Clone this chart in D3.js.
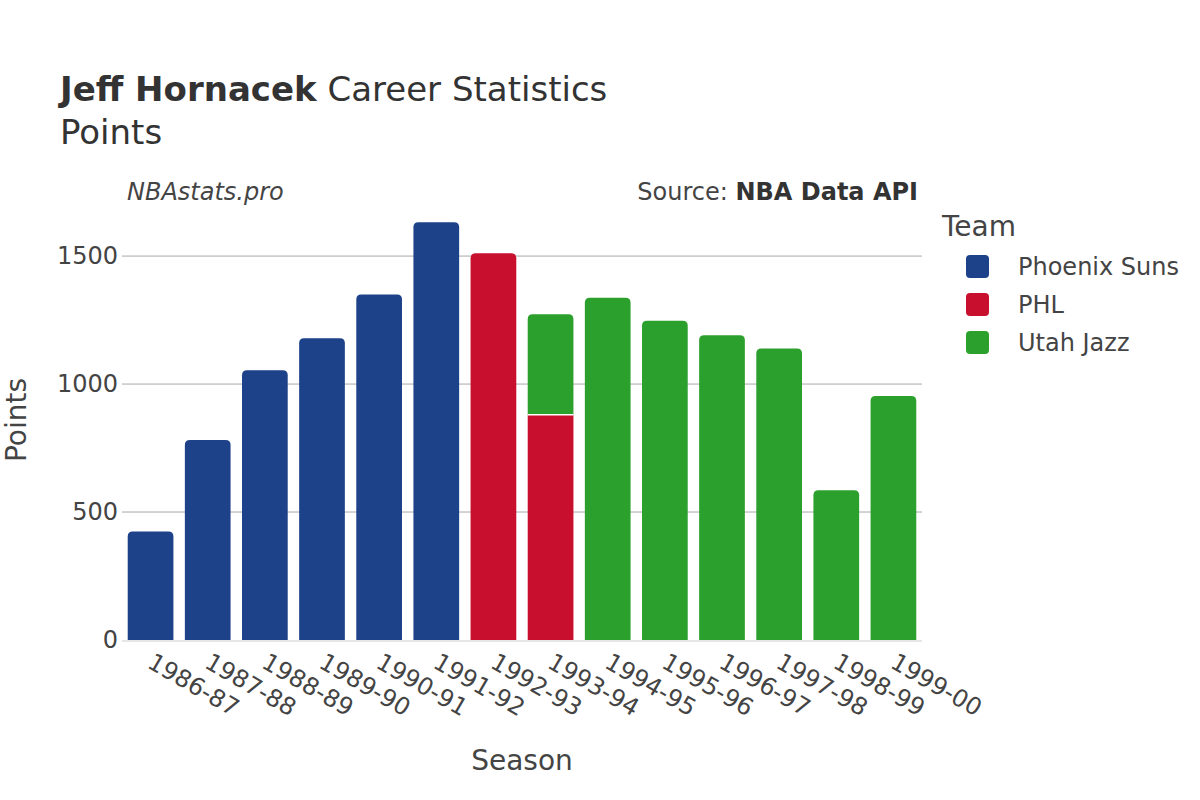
<!DOCTYPE html>
<html><head><meta charset="utf-8">
<script src="https://cdn.jsdelivr.net/npm/d3@7"></script>
<style>body{margin:0;background:#fff}svg{font-family:"DejaVu Sans",sans-serif}</style>
</head><body><svg id="c" width="1200" height="800"></svg>
<script>
const seasons = ["1986-87","1987-88","1988-89","1989-90","1990-91","1991-92","1992-93","1993-94","1994-95","1995-96","1996-97","1997-98","1998-99","1999-00"];
const teams = ["Phoenix Suns","PHL","Utah Jazz"];
const teamColors = ["#1d428a","#c8102e","#2ca02c"];
const phoenix = [424,781,1054,1179,1350,1632,0,0,0,0,0,0,0,0];
const phl     = [0,0,0,0,0,0,1511,880,0,0,0,0,0,0];
const utah    = [0,0,0,0,0,0,0,393,1337,1247,1191,1139,585,953];
const yTicks = [0,500,1000,1500];

const svg = d3.select("#c");
const L=122, R=922, T=210, B=640;
const x = d3.scaleBand().domain(seasons).range([L,R]).paddingInner(0.2).paddingOuter(0.1);
const y = d3.scaleLinear().domain([0,1680]).range([B,T]);

// grid
svg.append("g").selectAll("line").data(yTicks.filter(d=>d>0)).join("line")
  .attr("x1",L).attr("x2",R).attr("y1",d=>y(d)).attr("y2",d=>y(d))
  .attr("stroke","#a8a8a8").attr("stroke-width",1);
// y axis labels
svg.append("g").selectAll("text").data(yTicks).join("text")
  .attr("x",L-4).attr("y",d=>y(d)).attr("dy","0.35em").attr("text-anchor","end")
  .attr("font-size",24).attr("fill","#444").text(d=>d);

const series = [phoenix, phl, utah];
const stackData = seasons.map((s,i)=>({season:s, v:series.map(a=>a[i])}));
function roundTop(x0,y0,w,h,r){
  r=Math.min(r,h,w/2);
  return `M${x0},${y0+h}V${y0+r}Q${x0},${y0} ${x0+r},${y0}H${x0+w-r}Q${x0+w},${y0} ${x0+w},${y0+r}V${y0+h}Z`;
}
const gb = svg.append("g");
stackData.forEach(d=>{
  let base=0;
  const nonzero = d.v.map((v,k)=>v>0?k:-1).filter(k=>k>=0);
  const topK = nonzero[nonzero.length-1];
  d.v.forEach((v,k)=>{
    if(v<=0) return;
    const y0=y(base+v), y1=y(base);
    const w=x.bandwidth(), x0=x(d.season);
    if(k===topK){
      gb.append("path").attr("d",roundTop(x0,y0,w,y1-y0,5)).attr("fill",teamColors[k]);
    } else {
      gb.append("rect").attr("x",x0).attr("y",y0).attr("width",w).attr("height",y1-y0).attr("fill",teamColors[k]);
    }
    if(base>0){
      gb.append("line").attr("x1",x0).attr("x2",x0+w).attr("y1",y1).attr("y2",y1).attr("stroke","#fff").attr("stroke-width",1.5);
    }
    base+=v;
  });
});
// zero line
svg.append("line").attr("x1",L).attr("x2",R).attr("y1",y(0)+1).attr("y2",y(0)+1).attr("stroke","#e6e6e6").attr("stroke-width",2);

// x labels
svg.append("g").selectAll("text").data(seasons).join("text")
  .attr("transform",d=>`translate(${x(d)+x.bandwidth()/2+4},${B+12}) rotate(30)`)
  .attr("dy","0.71em").attr("font-size",24).attr("fill","#444").text(d=>d);

// titles
const t = svg.append("text").attr("x",60).attr("y",101).attr("font-size",34).attr("fill","#333");
t.append("tspan").attr("font-weight","bold").text("Jeff Hornacek");
t.append("tspan").text(" Career Statistics");
svg.append("text").attr("x",60).attr("y",144).attr("font-size",34).attr("fill","#333").text("Points");
svg.append("text").attr("x",127).attr("y",200).attr("font-size",24).attr("font-style","italic").attr("fill","#444").text("NBAstats.pro");
const s = svg.append("text").attr("x",918).attr("y",200).attr("font-size",24).attr("text-anchor","end").attr("fill","#444");
s.append("tspan").text("Source: ");
s.append("tspan").attr("font-weight","bold").attr("fill","#333").text("NBA Data API");

svg.append("text").attr("x",522).attr("y",770).attr("text-anchor","middle").attr("font-size",28).attr("fill","#444").text("Season");
svg.append("text").attr("transform","translate(26,420) rotate(-90)").attr("text-anchor","middle").attr("font-size",28).attr("fill","#444").text("Points");

// legend
svg.append("text").attr("x",942).attr("y",236).attr("font-size",28).attr("fill","#444").text("Team");
const lg = svg.append("g").selectAll("g").data(teams).join("g").attr("transform",(d,i)=>`translate(966,${255+i*38})`);
lg.append("rect").attr("width",23).attr("height",23).attr("rx",4).attr("fill",(d,i)=>teamColors[i]);
lg.append("text").attr("x",52).attr("y",11.5).attr("dy","0.35em").attr("font-size",24).attr("fill","#444").text(d=>d);
</script></body></html>
